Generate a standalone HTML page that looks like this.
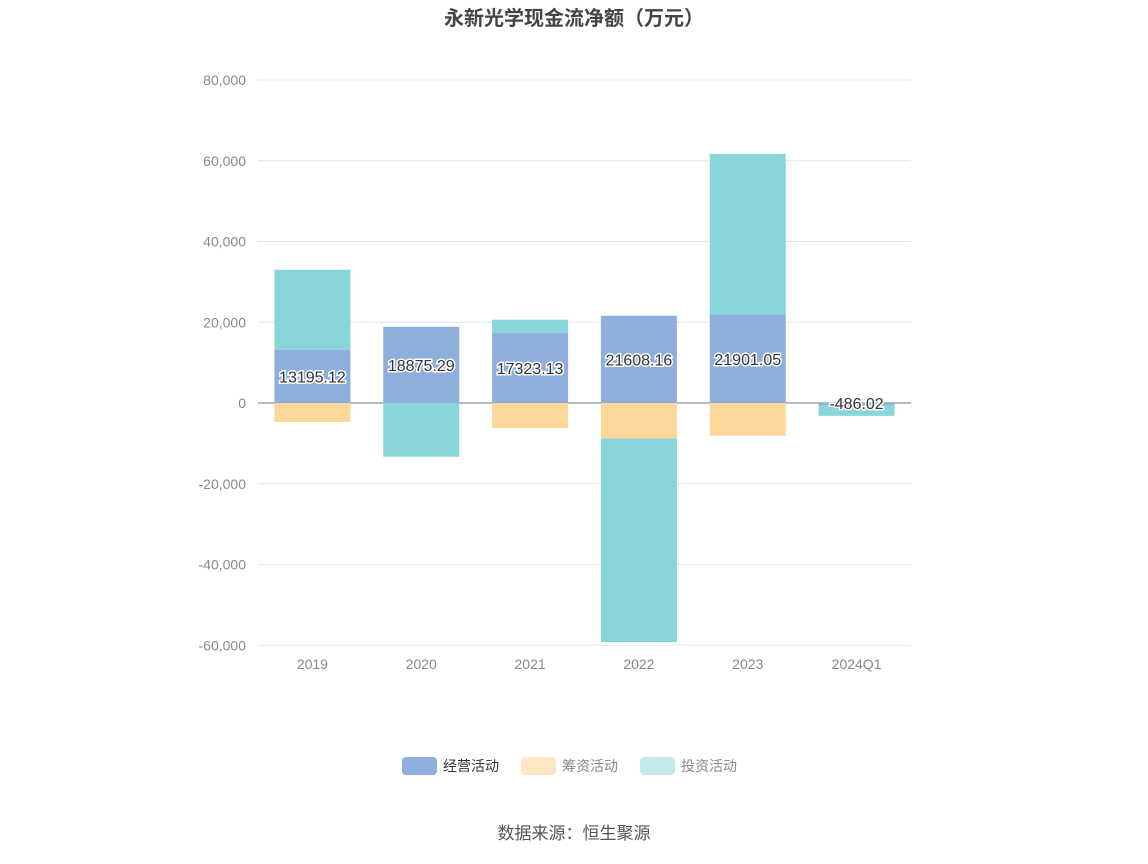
<!DOCTYPE html>
<html><head><meta charset="utf-8"><style>
body{margin:0;background:#fff;font-family:"Liberation Sans","Noto Sans CJK SC",sans-serif}
</style></head><body>
<svg width="1148" height="859" xmlns="http://www.w3.org/2000/svg" font-family="Liberation Sans, Noto Sans CJK SC, sans-serif">
<text x="574" y="25" text-anchor="middle" font-size="20" font-weight="bold" fill="#444">永新光学现金流净额（万元）</text>
<g id="grid"></g><g id="bars"></g><g id="labels"></g>
<g>
<g><rect x="402" y="757" width="35" height="18" rx="4" fill="#8eaedb"/><text x="443" y="771" font-size="14" fill="#333">经营活动</text></g>
<g><rect x="521" y="757" width="35" height="18" rx="4" fill="#fde7c4"/><text x="562" y="771" font-size="14" fill="#888">筹资活动</text></g>
<g><rect x="640" y="757" width="35" height="18" rx="4" fill="#c2e9eb"/><text x="681" y="771" font-size="14" fill="#888">投资活动</text></g>
</g>
<text x="574" y="839" text-anchor="middle" font-size="17" fill="#555">数据来源：恒生聚源</text>
</svg>
<script>
const categories=["2019","2020","2021","2022","2023","2024Q1"];
const operating=[13195.12,18875.29,17323.13,21608.16,21901.05,-486.02];
const financing=[-4700,0,-6200,-8800,-8100,0];
const investing=[19800,-13300,3300,-50400,39800,-2700];
const ticks=[80000,60000,40000,20000,0,-20000,-40000,-60000];
const NS="http://www.w3.org/2000/svg";
const y=v=>403-v*(323/80000);
const x0=258,x1=911,bw=(x1-x0)/categories.length;
function el(t,a,p){const e=document.createElementNS(NS,t);for(const k in a)e.setAttribute(k,a[k]);p.appendChild(e);return e;}
const grid=document.getElementById('grid'),bars=document.getElementById('bars'),labels=document.getElementById('labels');
ticks.forEach(t=>{
 const l=el('line',{x1:x0,x2:x1,y1:y(t),y2:y(t),stroke:t===0?'#6e7079':'#e0e6f1','stroke-width':1},grid);
 
 
 const tx=el('text',{x:246,y:y(t)+5,'text-anchor':'end','font-size':14,fill:'#888'},grid);
 tx.textContent=t.toLocaleString('en-US');
 
 
});
const series=[["operating",operating,"#8eaedb"],["financing",financing,"#fdd79a"],["investing",investing,"#88d6d9"]];
categories.forEach((c,i)=>{
 const cx=x0+bw*(i+0.5);
 let pos=0,neg=0;
 series.forEach(([n,arr,col])=>{
  const v=arr[i];if(!v)return;
  let a,b;
  if(v>=0){a=pos;b=pos+v;pos=b;}else{a=neg;b=neg+v;neg=b;}
  const r=el('rect',{x:cx-38,y:Math.min(y(a),y(b)),width:76,height:Math.abs(y(a)-y(b)),fill:col},bars);
  
  
 });
 const tl=el('text',{x:cx,y:669,'text-anchor':'middle','font-size':14,fill:'#888'},grid);
 tl.textContent=c;
 
 
 const v=operating[i];
 const ly=v>=0?y(v/2)+6:y(0)+6;
 const lb=el('text',{x:cx,y:ly,'text-anchor':'middle','font-size':16,fill:'#333',stroke:'#fff','stroke-width':3,'paint-order':'stroke'},labels);
 lb.textContent=v.toFixed(2);
 
 
});
</script>
</body></html>
